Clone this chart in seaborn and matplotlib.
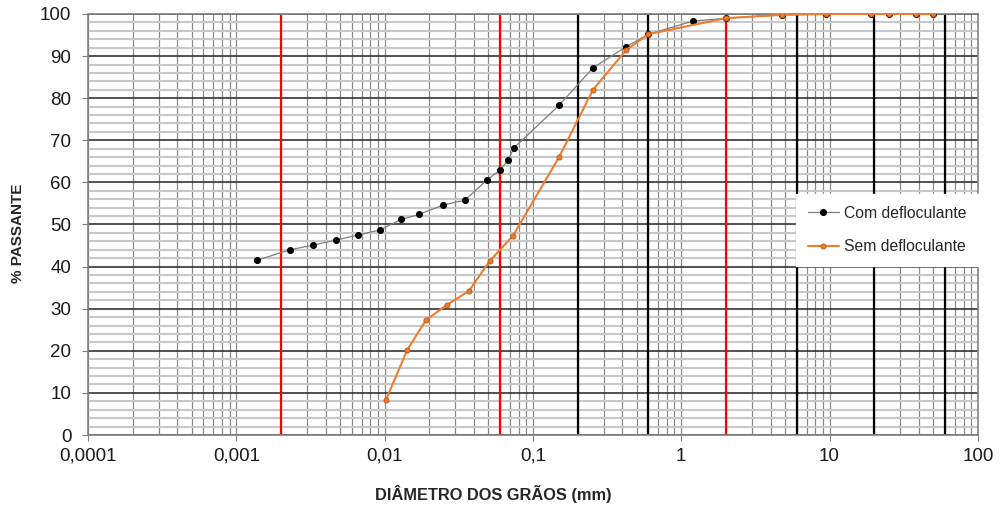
import numpy as np
import pandas as pd
import seaborn as sns
import matplotlib.pyplot as plt
from matplotlib.ticker import LogLocator, FuncFormatter, MultipleLocator

# dados da curva granulométrica
diam_com = [0.00138, 0.0023, 0.0033, 0.0047, 0.0066, 0.0093, 0.0129, 0.0171, 0.0247,
            0.0348, 0.049, 0.060, 0.068, 0.0745, 0.150, 0.254, 0.424, 0.60, 1.2, 2.0,
            4.8, 9.5, 19, 25, 38, 50]
pass_com = [41.5, 44.0, 45.1, 46.3, 47.5, 48.7, 51.2, 52.4, 54.6, 55.8, 60.6, 62.9, 65.3,
            68.2, 78.3, 87.2, 92.2, 95.2, 98.3, 99.0, 99.8, 100, 100, 100, 100, 100]
diam_sem = [0.0102, 0.0142, 0.019, 0.0263, 0.037, 0.051, 0.0733, 0.150, 0.254, 0.424,
            0.60, 2.0, 4.8, 9.5, 19, 25, 38, 50]
pass_sem = [8.3, 20.2, 27.3, 30.9, 34.2, 41.3, 47.3, 66.0, 82.0, 91.4,
            95.2, 99.0, 99.8, 100, 100, 100, 100, 100]

limites_pretos = [0.2, 0.6, 6, 20, 60]
limites_vermelhos = [0.002, 0.06, 2]
x_ticks = [0.0001, 0.001, 0.01, 0.1, 1, 10, 100]
x_labels = ['0,0001', '0,001', '0,01', '0,1', '1', '10', '100']

df = pd.concat([
    pd.DataFrame({'d': diam_com, 'p': pass_com, 'serie': 'Com defloculante'}),
    pd.DataFrame({'d': diam_sem, 'p': pass_sem, 'serie': 'Sem defloculante'}),
])

sns.set_style('white')
plt.rcParams['font.family'] = ['Liberation Sans', 'DejaVu Sans']

fig = plt.figure(figsize=(10.01, 5.07), dpi=100)
ax = fig.add_axes([0.0879, 0.142, 0.889, 0.8304])

ax.set_xscale('log')
ax.set_xlim(0.0001, 100)
ax.set_ylim(0, 100)

# grade
ax.xaxis.set_minor_locator(LogLocator(base=10, subs=np.arange(2, 10), numticks=20))
ax.yaxis.set_major_locator(MultipleLocator(10))
ax.yaxis.set_minor_locator(MultipleLocator(2))
ax.grid(which='minor', axis='y', color='#c8c8c8', lw=1.5, zorder=0)
ax.grid(which='major', axis='y', color='#222222', lw=1.1, zorder=0.5)
ax.grid(which='minor', axis='x', color='#8a8a8a', lw=0.9, zorder=0.6)
ax.grid(which='major', axis='x', color='#8a8a8a', lw=0.9, zorder=0.6)
for v in limites_pretos:
    ax.axvline(v, color='black', lw=1.6, zorder=0.7)
for v in limites_vermelhos:
    ax.axvline(v, color='#ff0000', lw=1.6, zorder=0.8)

sns.lineplot(data=df[df.serie == 'Com defloculante'], x='d', y='p', sort=False,
             color='#7f7f7f', lw=0.9, marker='o', markersize=4.3,
             markerfacecolor='black', markeredgecolor='black',
             label='Com defloculante', ax=ax, zorder=3)
sns.lineplot(data=df[df.serie == 'Sem defloculante'], x='d', y='p', sort=False,
             color='#ed7d31', lw=1.5, marker='o', markersize=3.6,
             markerfacecolor='#ed7d31', markeredgecolor='#c55a11', markeredgewidth=0.7,
             label='Sem defloculante', ax=ax, zorder=4)

ax.set_xticks(x_ticks)
ax.set_xticklabels(x_labels)
ax.xaxis.set_minor_formatter(FuncFormatter(lambda v, p: ''))
ax.tick_params(axis='both', which='major', labelsize=13.5, length=4, color='#808080',
               direction='out', labelcolor='#1a1a1a')
ax.tick_params(axis='x', which='major', pad=5, bottom=True)
ax.tick_params(axis='y', which='major', left=True, pad=8)
ax.tick_params(axis='x', which='minor', length=0)

for s in ax.spines.values():
    s.set_color('#808080')
    s.set_linewidth(1.2)

ax.set_xlabel('DIÂMETRO DOS GRÃOS (mm)', fontsize=11.8, fontweight='bold')
ax.xaxis.set_label_coords(0.455, -0.118)
ax.set_ylabel('% PASSANTE', fontsize=11, fontweight='bold')
ax.yaxis.set_label_coords(-0.0705, 0.48)

leg = ax.legend(loc='center right', bbox_to_anchor=(1.0, 0.487), frameon=True,
                fancybox=False, framealpha=1, edgecolor='white', fontsize=11.3,
                handlelength=2, labelspacing=1.2, borderpad=0.75, handletextpad=0.3,
                borderaxespad=0)
leg.set_zorder(10)

fig.savefig('out.png', dpi=100)
